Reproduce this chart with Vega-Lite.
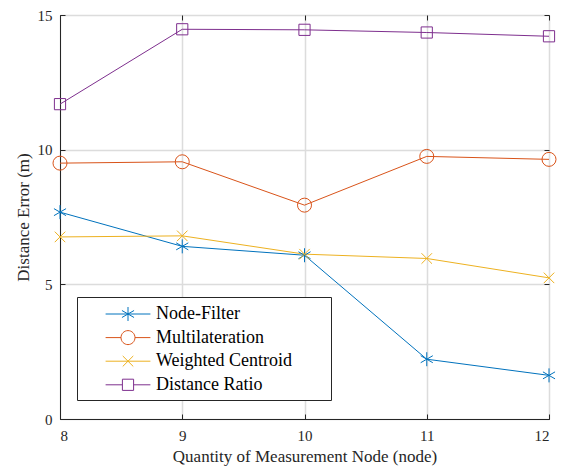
{
  "$schema": "https://vega.github.io/schema/vega-lite/v6.json",
  "width": 489,
  "height": 404,
  "autosize": "none",
  "padding": {"left": 60, "top": 15, "right": 14, "bottom": 49},
  "background": "white",
  "config": {
    "view": {"stroke": "#262626", "strokeWidth": 1},
    "font": "Liberation Serif",
    "axis": {
      "labelFont": "Liberation Serif",
      "titleFont": "Liberation Serif",
      "labelFontSize": 15,
      "titleFontSize": 17,
      "titleFontWeight": "normal",
      "labelColor": "#262626",
      "titleColor": "#262626",
      "domainColor": "#262626",
      "tickColor": "#262626",
      "gridColor": "#dcdcdc",
      "gridWidth": 1.5
    }
  },
  "data": {
    "values": [
      {"x": 8, "v": 7.68, "s": "Node-Filter"},
      {"x": 9, "v": 6.41, "s": "Node-Filter"},
      {"x": 10, "v": 6.08, "s": "Node-Filter"},
      {"x": 11, "v": 2.22, "s": "Node-Filter"},
      {"x": 12, "v": 1.62, "s": "Node-Filter"},
      {"x": 8, "v": 9.50, "s": "Multilateration"},
      {"x": 9, "v": 9.55, "s": "Multilateration"},
      {"x": 10, "v": 7.94, "s": "Multilateration"},
      {"x": 11, "v": 9.75, "s": "Multilateration"},
      {"x": 12, "v": 9.64, "s": "Multilateration"},
      {"x": 8, "v": 6.76, "s": "Weighted Centroid"},
      {"x": 9, "v": 6.80, "s": "Weighted Centroid"},
      {"x": 10, "v": 6.12, "s": "Weighted Centroid"},
      {"x": 11, "v": 5.96, "s": "Weighted Centroid"},
      {"x": 12, "v": 5.24, "s": "Weighted Centroid"},
      {"x": 8, "v": 11.69, "s": "Distance Ratio"},
      {"x": 9, "v": 14.47, "s": "Distance Ratio"},
      {"x": 10, "v": 14.45, "s": "Distance Ratio"},
      {"x": 11, "v": 14.35, "s": "Distance Ratio"},
      {"x": 12, "v": 14.21, "s": "Distance Ratio"}
    ]
  },
  "layer": [
    {
      "mark": {"type": "line", "strokeWidth": 1},
      "encoding": {
        "x": {
          "field": "x", "type": "quantitative",
          "scale": {"domain": [8, 12], "nice": false, "zero": false},
          "axis": {"values": [8, 9, 10, 11, 12], "title": "Quantity of Measurement Node (node)", "tickSize": -5, "labelPadding": 14, "titlePadding": 5, "format": "d"}
        },
        "y": {
          "field": "v", "type": "quantitative",
          "scale": {"domain": [0, 15], "nice": false},
          "axis": {"values": [0, 5, 10, 15], "title": "Distance Error (m)", "tickSize": -5, "labelPadding": 13, "titlePadding": 5}
        },
        "color": {
          "field": "s", "type": "nominal",
          "scale": {"domain": ["Node-Filter", "Multilateration", "Weighted Centroid", "Distance Ratio"], "range": ["#0072BD", "#D95319", "#EDB120", "#7E2F8E"]},
          "legend": null
        }
      }
    },
    {
      "mark": {"type": "point", "filled": false, "size": 196, "strokeWidth": 1, "opacity": 1},
      "encoding": {
        "x": {
          "field": "x", "type": "quantitative",
          "axis": {"orient": "top", "values": [8, 9, 10, 11, 12], "labels": false, "title": null, "grid": false, "domain": false, "tickSize": -5}
        },
        "y": {
          "field": "v", "type": "quantitative",
          "axis": {"orient": "right", "values": [0, 5, 10, 15], "labels": false, "title": null, "grid": false, "domain": false, "tickSize": -5}
        },
        "color": {
          "field": "s", "type": "nominal",
          "scale": {"domain": ["Node-Filter", "Multilateration", "Weighted Centroid", "Distance Ratio"], "range": ["#0072BD", "#D95319", "#EDB120", "#7E2F8E"]},
          "legend": null
        },
        "shape": {
          "field": "s", "type": "nominal",
          "scale": {"domain": ["Node-Filter", "Multilateration", "Weighted Centroid", "Distance Ratio"], "range": ["M0,-1L0,1M-0.866,-0.5L0.866,0.5M-0.866,0.5L0.866,-0.5", "circle", "M-0.75,-0.75L0.75,0.75M-0.75,0.75L0.75,-0.75", "M-0.8,-0.8H0.8V0.8H-0.8Z"]},
          "legend": null
        }
      }
    },
    {
      "transform": [{"filter": "false"}],
      "mark": {"type": "point", "filled": false, "size": 416, "strokeWidth": 1, "opacity": 1},
      "encoding": {
        "x": {"field": "x", "type": "quantitative", "axis": null},
        "y": {"field": "v", "type": "quantitative", "axis": null},
        "color": {
          "field": "s", "type": "nominal",
          "scale": {"domain": ["Node-Filter", "Multilateration", "Weighted Centroid", "Distance Ratio"], "range": ["#0072BD", "#D95319", "#EDB120", "#7E2F8E"]},
          "legend": {
            "title": null,
            "orient": "none",
            "legendX": 17,
            "legendY": 282,
            "strokeColor": "#262626",
            "fillColor": "white",
            "padding": 6,
            "rowPadding": 3.6,
            "labelFont": "Liberation Serif",
            "labelFontSize": 18,
            "labelLimit": 400,
            "labelColor": "#000000",
            "symbolSize": 416,
            "symbolStrokeWidth": 1,
            "symbolOffset": 34,
            "labelOffset": 17
          }
        },
        "shape": {
          "field": "s", "type": "nominal",
          "scale": {"domain": ["Node-Filter", "Multilateration", "Weighted Centroid", "Distance Ratio"], "range": ["M19.07,0M-2.196,0L2.196,0M0,-0.686L0,0.686M-0.594,-0.343L0.594,0.343M-0.594,0.343L0.594,-0.343", "M19.07,0M-2.196,0L-0.686,0M0.686,0L2.196,0M0.686,0A0.686,0.686,0,1,1,-0.686,0A0.686,0.686,0,1,1,0.686,0", "M19.07,0M-2.196,0L2.196,0M-0.515,-0.515L0.515,0.515M-0.515,0.515L0.515,-0.515", "M19.07,0M-2.196,0L-0.549,0M0.549,0L2.196,0M-0.549,-0.549H0.549V0.549H-0.549Z"]},
          "legend": {
            "title": null,
            "orient": "none",
            "legendX": 17,
            "legendY": 282,
            "strokeColor": "#262626",
            "fillColor": "white",
            "padding": 6,
            "rowPadding": 3.6,
            "labelFont": "Liberation Serif",
            "labelFontSize": 18,
            "labelLimit": 400,
            "labelColor": "#000000",
            "symbolSize": 416,
            "symbolStrokeWidth": 1,
            "symbolOffset": 34,
            "labelOffset": 17
          }
        }
      }
    }
  ],
  "resolve": {
    "axis": {"x": "independent", "y": "independent"},
    "scale": {"color": "independent", "shape": "independent"}
  }
}
